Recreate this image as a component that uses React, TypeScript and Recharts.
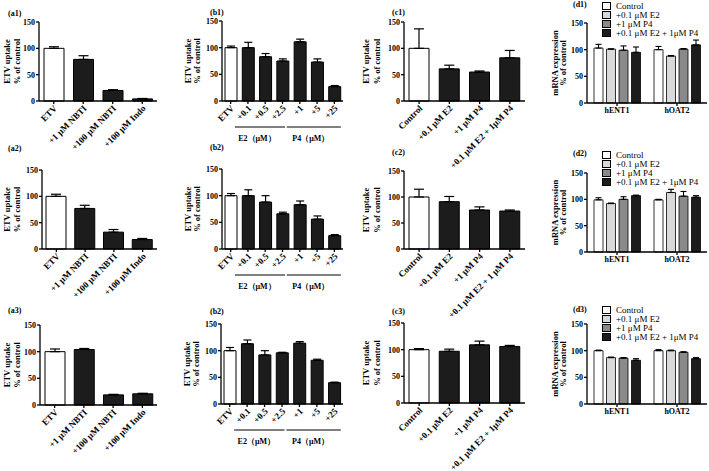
import React from 'react';
import { BarChart, Bar, XAxis, YAxis, Cell, ErrorBar, Legend } from 'recharts';

const FONT = '"Liberation Serif", "Times New Roman", Times, serif';

// ---- categories ----
const aCats = ['ETV', '+1  μM NBTI', '+100  μM NBTI', '+100  μM Indo'];
const bCats = ['ETV', '+0.1', '+0.5', '+2.5', '+1', '+5', '+25'];
const cCats = ['Control', '+0.1  μM E2', '+1  μM P4', '+0.1  μM E2 + 1μM P4'];
const c2Cats = ['Control', '+0.1 μM E2', '+1 μM P4', '+0.1 μM E2 + 1 μM P4'];
const dCats = ['hENT1', 'hOAT2'];
const dSeries = ['Control', '+0.1 μM E2', '+1  μM P4', '+0.1 μM E2 + 1μM P4'];
const dColors = ['#ffffff', '#d9d9d9', '#8a8a8a', '#1c1c1c'];
const bGroups = [
  { label: 'E2（μM）', start: 1, end: 3 },
  { label: 'P4（μM）', start: 4, end: 6 },
];

// ---- values (% of control) and SEM ----
const a1Vals = [100, 79, 20, 4];
const a1Errs = [3, 7, 1.5, 0.8];
const a2Vals = [100, 77, 32, 18];
const a2Errs = [4, 6, 5, 2];
const a3Vals = [100, 104, 19, 21];
const a3Errs = [5, 2, 1, 1];

const b1Vals = [100, 100, 83, 75, 111, 73, 27];
const b1Errs = [3, 10, 6, 4, 5, 6, 2];
const b2Vals = [100, 100, 88, 66, 83, 56, 25];
const b2Errs = [4, 11, 12, 3, 7, 6, 2];
const b3Vals = [100, 113, 92, 96, 114, 82, 40];
const b3Errs = [6, 7, 8, 1, 3, 2, 1];

const c1Vals = [100, 61, 55, 82];
const c1Errs = [37, 7, 2, 14];
const c2Vals = [100, 91, 75, 73];
const c2Errs = [15, 10, 6, 2];
const c3Vals = [100, 97, 109, 106];
const c3Errs = [2, 4, 7, 2];

// d: [hENT1, hOAT2] for each treatment
const d1Ctrl = [103, 100];
const d1E2 = [101, 88];
const d1P4 = [99, 101];
const d1Both = [95, 109];
const d1Errs = [[7, 6], [0.5, 1], [8, 1], [10, 9]];
const d2Ctrl = [99, 99];
const d2E2 = [92, 113];
const d2P4 = [100, 106];
const d2Both = [107, 104];
const d2Errs = [[4, 1], [1, 6], [5, 9], [1, 3]];
const d3Ctrl = [100, 100];
const d3E2 = [87, 100];
const d3P4 = [86, 97];
const d3Both = [82, 85];
const d3Errs = [[1, 2], [1, 1], [1, 1], [3, 2]];

const yTicks = [0, 50, 100, 150];

const toRows = (cats: string[], vals: number[], errs: number[]) =>
  cats.map((name, i) => ({ name, v: vals[i], e: [0, errs[i]] }));

const toDRows = (series: number[][], errs: number[][]) =>
  dCats.map((name, i) => {
    const row: any = { name };
    series.forEach((s, k) => {
      row['s' + k] = s[i];
      row['e' + k] = [0, errs[k][i]];
    });
    return row;
  });

const YW = 44;
const MR = 3;

const tickStyle = { fontFamily: FONT, fontSize: 8, fontWeight: 700, fill: '#000' };
const rotStyle = { fontFamily: FONT, fontSize: 9, fontWeight: 700, fill: '#000' };

const YLab = ({ lines, offs, mt, ph }: any) => (
  <g>
    {lines.map((t: string, i: number) => {
      const x = YW - offs[i];
      const y = mt + ph / 2;
      return (
        <text key={i} x={x} y={y} transform={`rotate(-90 ${x} ${y})`} textAnchor="middle" dy="0.35em"
          style={{ fontFamily: FONT, fontSize: 8.5, fontWeight: 700 }} fill="#000">
          {t}
        </text>
      );
    })}
  </g>
);

const RotTick = (props: any) => {
  const { x, y, payload, index, groups, band } = props;
  const g = groups ? groups.find((gr: any) => gr.start === index) : null;
  return (
    <g>
      <g transform={`translate(${x + 2},${y + 1}) rotate(-45)`}>
        <text textAnchor="end" dy="0.3em" style={rotStyle} fill="#000">{payload.value}</text>
      </g>
      {g && (() => {
        const span = (g.end - g.start) * band;
        const x1 = x - 13;
        const x2 = x + span + (g.start === 1 ? 2.5 : 6.5);
        return (
          <g>
            <line x1={x1} x2={x2} y1={y + 21} y2={y + 21} stroke="#000" strokeWidth={1} />
            <text x={(x1 + x2) / 2 - 3} y={y + 35} textAnchor="middle"
              style={{ fontFamily: FONT, fontSize: 8, fontWeight: 700 }} fill="#000">{g.label}</text>
          </g>
        );
      })()}
    </g>
  );
};

const FlatTick = (props: any) => {
  const { x, y, payload } = props;
  return (
    <text x={x} y={y + 5} textAnchor="middle" style={tickStyle} fill="#000">{payload.value}</text>
  );
};

const Title = ({ x, y, text }: any) => (
  <div style={{ position: 'absolute', left: x, top: y - 5, fontFamily: FONT, fontSize: 8, fontWeight: 700, lineHeight: '10px', whiteSpace: 'nowrap' }}>
    {text}
  </div>
);

const axisProps = { stroke: '#000', strokeWidth: 1.3 };

const SinglePanel = ({ rows, x0, xEnd, y150, y0, xh, barSize, cap, offs, groups }: any) => {
  const mt = 6;
  const pw = xEnd - x0;
  const ph = y0 - y150;
  const band = pw / rows.length;
  return (
    <div style={{ position: 'absolute', left: x0 - YW, top: y150 - mt }}>
      <BarChart width={YW + pw + MR} height={mt + ph + xh} data={rows}
        margin={{ top: mt, right: MR, left: 0, bottom: 0 }}>
        <XAxis dataKey="name" height={xh} interval={0} tickSize={3} tickMargin={2}
          axisLine={axisProps} tickLine={axisProps}
          tick={<RotTick groups={groups} band={band} />} />
        <YAxis width={YW} domain={[0, 150]} ticks={yTicks} interval={0} tickSize={3} tickMargin={1}
          axisLine={axisProps} tickLine={axisProps} tick={tickStyle}
          label={<YLab lines={['ETV uptake', '% of control']} offs={offs} mt={mt} ph={ph} />} />
        <Bar dataKey="v" barSize={barSize} stroke="#000" strokeWidth={1} isAnimationActive={false}>
          {rows.map((_: any, i: number) => (
            <Cell key={i} fill={i === 0 ? '#ffffff' : '#1c1c1c'} />
          ))}
          <ErrorBar dataKey="e" width={cap} stroke="#000" strokeWidth={1.2} />
        </Bar>
      </BarChart>
    </div>
  );
};

const DLegend = (props: any) => (
  <div style={{ fontFamily: FONT, fontSize: 9, color: '#000', whiteSpace: 'nowrap' }}>
    {(props.payload || []).map((p: any, i: number) => (
      <div key={i} style={{ display: 'flex', alignItems: 'center', height: 9 }}>
        <span style={{ display: 'inline-block', width: 9, height: 8, background: p.color, border: '1px solid #000', boxSizing: 'border-box', marginRight: 5 }} />
        <span>{p.value}</span>
      </div>
    ))}
  </div>
);

const DPanel = ({ rows, y150, y0, legendTop }: any) => {
  const mt = 26;
  const x0 = 587;
  const xEnd = 707;
  const pw = xEnd - x0;
  const ph = y0 - y150;
  return (
    <div style={{ position: 'absolute', left: x0 - YW, top: y150 - mt }}>
      <BarChart width={YW + pw + 2} height={mt + ph + 22} data={rows}
        margin={{ top: mt, right: 2, left: 0, bottom: 0 }} barGap={3.5}>
        <XAxis dataKey="name" height={22} interval={0} tickSize={3} tickMargin={2}
          axisLine={axisProps} tickLine={axisProps} tick={<FlatTick />} />
        <YAxis width={YW} domain={[0, 150]} ticks={yTicks} interval={0} tickSize={3} tickMargin={1}
          axisLine={axisProps} tickLine={axisProps} tick={tickStyle}
          label={<YLab lines={['mRNA expression', '% of control']} offs={[32, 24]} mt={mt} ph={ph} />} />
        <Legend layout="vertical" align="center" verticalAlign="middle" content={<DLegend />}
          itemSorter="dataKey"
          wrapperStyle={{ left: 602 - (x0 - YW), top: legendTop - (y150 - mt), width: 110 }} />
        {dSeries.map((name, k) => (
          <Bar key={k} dataKey={'s' + k} name={name} barSize={9} fill={dColors[k]} stroke="#000"
            strokeWidth={0.8} isAnimationActive={false}>
            <ErrorBar dataKey={'e' + k} width={3} stroke="#000" strokeWidth={1.1} />
          </Bar>
        ))}
      </BarChart>
    </div>
  );
};

export default function App() {
  return (
    <div style={{ position: 'absolute', left: 0, top: 0, width: 709, height: 471, background: '#fff', overflow: 'hidden' }}>
      <SinglePanel rows={toRows(aCats, a1Vals, a1Errs)} x0={39} xEnd={157} y150={22} y0={101} xh={70} barSize={20} cap={5} offs={[32, 22]} />
      <SinglePanel rows={toRows(aCats, a2Vals, a2Errs)} x0={42} xEnd={157} y150={170} y0={249} xh={70} barSize={20} cap={5} offs={[35, 25]} />
      <SinglePanel rows={toRows(aCats, a3Vals, a3Errs)} x0={40} xEnd={157} y150={325} y0={405} xh={66} barSize={20} cap={5} offs={[33, 23]} />

      <SinglePanel rows={toRows(bCats, b1Vals, b1Errs)} x0={222} xEnd={343} y150={21} y0={101} xh={60} barSize={12} cap={4} offs={[34, 25]} groups={bGroups} />
      <SinglePanel rows={toRows(bCats, b2Vals, b2Errs)} x0={222} xEnd={343} y150={169} y0={249} xh={60} barSize={12} cap={4} offs={[34, 25]} groups={bGroups} />
      <SinglePanel rows={toRows(bCats, b3Vals, b3Errs)} x0={221} xEnd={343} y150={324} y0={404} xh={60} barSize={12} cap={4} offs={[34, 25]} groups={bGroups} />

      <SinglePanel rows={toRows(cCats, c1Vals, c1Errs)} x0={404} xEnd={525} y150={22} y0={101} xh={80} barSize={20} cap={5} offs={[38, 27]} />
      <SinglePanel rows={toRows(c2Cats, c2Vals, c2Errs)} x0={404} xEnd={525} y150={171} y0={249} xh={80} barSize={20} cap={5} offs={[38, 27]} />
      <SinglePanel rows={toRows(cCats, c3Vals, c3Errs)} x0={404} xEnd={525} y150={323} y0={403} xh={70} barSize={20} cap={5} offs={[38, 27]} />

      <DPanel rows={toDRows([d1Ctrl, d1E2, d1P4, d1Both], d1Errs)} y150={23} y0={103} legendTop={1} />
      <DPanel rows={toDRows([d2Ctrl, d2E2, d2P4, d2Both], d2Errs)} y150={173} y0={252} legendTop={150} />
      <DPanel rows={toDRows([d3Ctrl, d3E2, d3P4, d3Both], d3Errs)} y150={324} y0={404} legendTop={305} />

      <Title x={8} y={14} text="(a1)" />
      <Title x={8} y={149} text="(a2)" />
      <Title x={8} y={311} text="(a3)" />
      <Title x={210} y={13} text="(b1)" />
      <Title x={210} y={148} text="(b2)" />
      <Title x={210} y={312} text="(b2)" />
      <Title x={392} y={13} text="(c1)" />
      <Title x={392} y={153} text="(c2)" />
      <Title x={392} y={312} text="(c3)" />
      <Title x={573} y={5} text="(d1)" />
      <Title x={573} y={154} text="(d2)" />
      <Title x={573} y={310} text="(d3)" />
    </div>
  );
}
